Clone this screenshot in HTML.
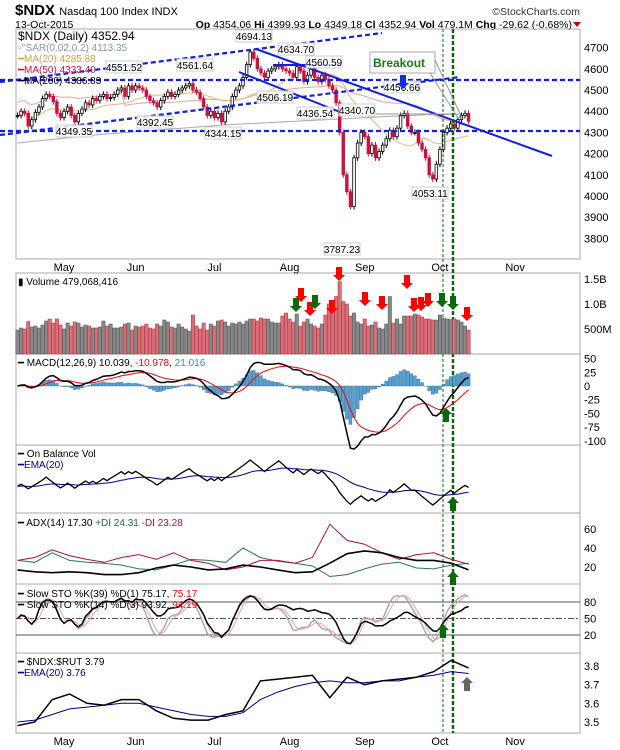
<!DOCTYPE html>
<html><head><meta charset="utf-8"><style>
body{margin:0;background:#fff;}
svg{display:block;font-family:"Liberation Sans",sans-serif;}
.ax{font-size:11px;fill:#000;}
</style></head><body>
<svg id="c" width="620" height="750" viewBox="0 0 620 750">
<rect x="0" y="0" width="620" height="750" fill="#fff"/>
<text x="15" y="15" font-size="15" font-weight="bold">$NDX <tspan font-size="11" font-weight="normal">Nasdaq 100 Index  INDX</tspan></text>
<text x="15" y="28" font-size="10.5">13-Oct-2015</text>
<text x="580" y="15" font-size="10.5" text-anchor="end" fill="#333">©StockCharts.com</text>
<text x="572" y="28" font-size="10.5" text-anchor="end"><tspan font-weight="bold">Op</tspan> 4354.06 <tspan font-weight="bold">Hi</tspan> 4399.93 <tspan font-weight="bold">Lo</tspan> 4349.18 <tspan font-weight="bold">Cl</tspan> 4352.94 <tspan font-weight="bold">Vol</tspan> 479.1M <tspan font-weight="bold">Chg</tspan> -29.62 (-0.68%)</text>
<polygon points="573,22 581,22 577,27" fill="#c00"/>
<g id="g"></g>
</svg>
<script>
const months=['May','Jun','Jul','Aug','Sep','Oct','Nov'];
const monthIdx=[13,33,55,76,97,118,139];
const closes=[4380,4400,4390,4330,4360,4395,4420,4460,4480,4470,4445,4390,4370,
4400,4420,4380,4350,4390,4410,4440,4430,4460,4450,4470,4480,4460,4465,4480,4500,4510,4470,4520,4500,
4520,4510,4500,4470,4450,4440,4420,4450,4470,4490,4470,4480,4500,4510,4520,4530,4500,4490,4460,4420,4380,4400,
4370,4390,4350,4400,4420,4470,4500,4520,4560,4620,4680,4650,4600,4580,4560,4590,4600,4610,4620,4600,4590,
4580,4560,4610,4590,4540,4570,4600,4560,4540,4570,4550,4520,4500,4440,4300,4100,4020,3950,4180,4250,4300,
4280,4200,4240,4180,4210,4240,4270,4310,4280,4320,4380,4390,4330,4300,4300,4250,4220,4180,4100,4080,4150,
4220,4300,4320,4340,4320,4360,4380,4390,4353];
const volumes=[480,520,500,650,540,560,520,580,660,700,620,700,580,
500,620,560,640,620,540,580,560,520,520,540,660,560,600,520,520,540,600,620,480,
560,540,560,600,520,500,600,560,680,640,540,520,600,540,500,460,780,560,500,620,480,600,
560,660,680,640,560,620,600,640,600,660,700,700,660,720,700,700,640,620,620,760,820,
700,640,800,560,640,700,600,560,520,600,780,1000,860,1150,1450,1050,1000,760,820,640,600,
700,560,580,640,520,500,600,1150,620,700,600,760,760,760,800,780,740,700,700,680,680,
780,720,700,690,700,680,640,560,480];
const ma200=[4250,4270,4290,4305,4320,4335,4345,4355,4365,4375,4383,4387];
const priceTicks=[4700,4600,4500,4400,4300,4200,4100,4000,3900,3800];
const volTicks=[[1500,'1.5B'],[1000,'1.0B'],[500,'500M']];
const macdTicks=[50,25,0,-25,-50,-75,-100];
const adxVals=[17,15,14,15,14,12,12,14,19,22,20,17,18,22,20,17,14,15,24,34,37,35,30,27,27,24,17];
const pdiVals=[27,25,35,27,25,24,22,18,17,22,28,27,25,40,30,26,24,21,10,12,18,23,25,19,18,22,24];
const mdiVals=[27,30,38,32,28,25,30,33,28,35,27,24,17,20,27,27,24,30,65,48,44,35,28,33,35,28,23];
const adxTicks=[60,40,20];
const stoTicks=[80,50,20];
const rutVals=[3.48,3.50,3.62,3.65,3.60,3.59,3.62,3.62,3.56,3.52,3.51,3.51,3.54,3.56,3.72,3.73,3.74,3.75,3.63,3.74,3.70,3.72,3.73,3.74,3.77,3.83,3.79];
const rutEma=[3.50,3.51,3.54,3.57,3.58,3.59,3.60,3.60,3.58,3.56,3.54,3.53,3.53,3.55,3.62,3.66,3.69,3.71,3.72,3.71,3.71,3.72,3.72,3.74,3.75,3.77,3.76];
const rutTicks=[3.8,3.7,3.6,3.5];

const NS='http://www.w3.org/2000/svg';
const G=document.getElementById('g');
function mk(tag,attrs,parent){const e=document.createElementNS(NS,tag);for(const k in attrs)e.setAttribute(k,attrs[k]);(parent||G).appendChild(e);return e;}
const L=16,R=580;
const xi=i=>17.5+i*3.58;
const N=closes.length;
const xc=(k,n)=>xi(k*(N-1)/(n-1));
const py=p=>47.7+(4700-p)*0.2118;
const vy=v=>354-v*0.05;
const my=v=>386-v*0.548;
const ay=v=>586-v*0.95;
const sy=v=>646-v*0.55;
const ry=v=>666+(3.8-v)*186.7;
const panels=[[29,259],[273,354],[354,445],[445,513],[513,584],[584,653],[653,733]];
const pnames=['price-panel','volume-panel','macd-panel','obv-panel','adx-panel','stochastic-panel','ratio-panel'];
panels.forEach((p,k)=>{const r=mk('rect',{x:L,y:p[0],width:R-L,height:p[1]-p[0],fill:'none',stroke:'#aaa','stroke-width':1});

});
function monthLabels(y){months.forEach((m,k)=>{const x=xi(monthIdx[k]);const t=mk('text',{x:x,y:y,class:'ax','text-anchor':'middle'});t.textContent=m;

});}
monthLabels(271);monthLabels(745);
function poly(pts,attrs,name){const e=mk('polyline',Object.assign({points:pts.map(p=>p[0].toFixed(1)+','+p[1].toFixed(1)).join(' '),fill:'none'},attrs));

return e;}
function tick(y,txt,name){const t=mk('text',{x:584,y:y+4,class:'ax'});t.textContent=txt;

}
function sma(a,n){return a.map((v,i)=>{const s=a.slice(Math.max(0,i-n+1),i+1);return s.reduce((x,y)=>x+y,0)/s.length;});}
function ema(a,n){const k=2/(n+1);let e=a[0];return a.map(v=>(e=v*k+e*(1-k)));}
// price
priceTicks.forEach(p=>tick(py(p),String(p),'price-tick-'+p));
poly(ma200.map((v,k)=>[xc(k,ma200.length),py(v)]),{stroke:'#aaa','stroke-width':1},'ma200-line');
const ma50=sma(closes,50).map((v,i)=>i<30?v+60:v);
poly(ma50.map((v,i)=>[xi(i),py(v)]),{stroke:'#f0a0a0','stroke-width':1},'ma50-line');
poly(sma(closes,20).map((v,i)=>[xi(i),py(v)]),{stroke:'#e8b878','stroke-width':1},'ma20-line');
closes.forEach((c,i)=>{const o=i?closes[i-1]:c;const up=c>=o;const col=up?'#000':'#d0103a';
const x=xi(i),y1=py(Math.max(o,c)),y2=py(Math.min(o,c));
const w=mk('line',{x1:x,x2:x,y1:y1-3,y2:y2+3,stroke:col,'stroke-width':1});


const b=mk('rect',{x:x-1.3,y:y1,width:2.6,height:Math.max(1,y2-y1),fill:up?'#fff':col,stroke:col,'stroke-width':0.8});

});
function ln(x1,y1,x2,y2,attrs,name){const e=mk('line',Object.assign({x1,y1,x2,y2},attrs));

}
const dash={stroke:'#1020e0','stroke-width':2.2,'stroke-dasharray':'5,3'};
ln(0,82,382,33,dash,'upper-channel-dashed');
ln(0,80,580,80,dash,'resistance-dashed');
ln(0,131,580,131,dash,'support-dashed');
ln(0,135,460,77,dash,'rising-channel-dashed');
ln(256,49,552,156,{stroke:'#1020e0','stroke-width':2},'falling-trendline');
ln(239,72,340,112,{stroke:'#1020e0','stroke-width':2},'falling-channel-lower');
ln(273,65,340,65,{stroke:'#1020e0','stroke-width':2},'short-resistance');
ln(376,114,458,114,{stroke:'#999','stroke-width':1},'gray-level-line');
[[443,1,'3,2'],[453,2.5,'4,2']].forEach((v,k)=>ln(v[0],29,v[0],733,{stroke:'#0a6a0a','stroke-width':v[1],'stroke-dasharray':v[2]},'signal-vertical-'+(k+1)));
const plabels=[['4694.13',254,38],['4634.70',296,51],['4560.59',324,64],['4551.52',124,69],['4561.64',195,67],['4506.19',275,99],['4436.54',315,115],['4340.70',357,112],['4392.45',155,124],['4349.35',74,133],['4344.15',223,135],['4456.66',402,89],['4053.11',430,195],['3787.23',342,251]];
plabels.forEach(l=>{const r=mk('rect',{x:l[1]-18,y:l[2]-8,width:36,height:12,fill:'#fff','fill-opacity':0.85,stroke:'#ccc'});


const t=mk('text',{x:l[1],y:l[2]+2,'font-size':10,'text-anchor':'middle'});t.textContent=l[0];

});
const bb=mk('rect',{x:370,y:52,width:65,height:21,fill:'#fff',stroke:'#aaa'});


const bt=mk('text',{x:373,y:67,'font-size':12,'font-weight':'bold',fill:'#1a7a1a'});bt.textContent='Breakout';


ln(435,60,462,118,{stroke:'#999'},'callout-pointer-1');ln(430,73,458,118,{stroke:'#999'},'callout-pointer-2');
const leg=[['$NDX (Daily) 4352.94','#000',13],['▫°SAR(0.02,0.2) 4113.35','#8899aa',11],['━MA(20) 4285.88','#d9a040',11],['━MA(50) 4333.40','#d0103a',11],['━MA(200) 4386.83','#000',11]];
leg.forEach((l,k)=>{const t=mk('text',{x:18,y:40+k*11,'font-size':l[2]-1,fill:l[1]});t.textContent=l[0];

});
// volume
volTicks.forEach(v=>tick(vy(v[0]),v[1],'volume-tick'));
volumes.forEach((v,i)=>{const up=i==0||closes[i]>=closes[i-1];const r=mk('rect',{x:xi(i)-1.7,y:vy(v),width:3.4,height:354-vy(v),fill:up?'#888':'#d87078',stroke:up?'#555':'#b03040','stroke-width':0.5});

});
const vt=mk('text',{x:18,y:285,'font-size':10});vt.textContent='▮ Volume 479,068,416';


// MACD
macdTicks.forEach(v=>tick(my(v),String(v),'macd-tick'));
const e12=ema(closes,12),e26=ema(closes,26);const macd=e12.map((v,i)=>v-e26[i]);const sig=ema(macd,9);
macd.forEach((m,i)=>{const h=m-sig[i];const r=mk('rect',{x:xi(i)-1.5,y:Math.min(my(0),my(h)),width:3,height:Math.abs(my(h)-my(0)),fill:'#5aa0d0',stroke:'#2a6a90','stroke-width':0.4});

});
poly(sig.map((v,i)=>[xi(i),my(v)]),{stroke:'#f00','stroke-width':1},'macd-signal-line');
poly(macd.map((v,i)=>[xi(i),my(v)]),{stroke:'#000','stroke-width':1.5},'macd-line');
const mt=mk('text',{x:18,y:366,'font-size':10});mt.innerHTML='━ MACD(12,26,9) 10.039, <tspan fill="#f00">-10.978</tspan>, <tspan fill="#3a90b0">21.016</tspan>';


// OBV
let ob=0;const obv=closes.map((c,i)=>{if(i)ob+=c>closes[i-1]?volumes[i]:c<closes[i-1]?-volumes[i]:0;return ob;});
const omin=Math.min(...obv),omax=Math.max(...obv);const oy=v=>505-(v-omin)/(omax-omin)*45;
poly(ema(obv,20).map((v,i)=>[xi(i),oy(v)]),{stroke:'#00008b','stroke-width':1},'obv-ema-line');
poly(obv.map((v,i)=>[xi(i),oy(v)]),{stroke:'#000','stroke-width':1.3},'obv-line');
const ot=mk('text',{x:18,y:457,'font-size':10});ot.textContent='━ On Balance Vol';


const ot2=mk('text',{x:18,y:468,'font-size':10,fill:'#00008b'});ot2.textContent='━EMA(20)';


// ADX
adxTicks.forEach(v=>tick(ay(v),String(v),'adx-tick'));
poly(pdiVals.map((v,k)=>[xc(k,pdiVals.length),ay(v)]),{stroke:'#2a7a50','stroke-width':1},'plus-di-line');
poly(mdiVals.map((v,k)=>[xc(k,mdiVals.length),ay(v)]),{stroke:'#b01040','stroke-width':1},'minus-di-line');
poly(adxVals.map((v,k)=>[xc(k,adxVals.length),ay(v)]),{stroke:'#000','stroke-width':1.6},'adx-line');
const at=mk('text',{x:18,y:526,'font-size':10});at.innerHTML='━ ADX(14) 17.30 <tspan fill="#1a6a3a">+DI 24.31</tspan> <tspan fill="#b01040">-DI 23.28</tspan>';


// STO
stoTicks.forEach(v=>{tick(sy(v),String(v),'sto-tick');ln(L,sy(v),R,sy(v),{stroke:'#555','stroke-width':1,'stroke-dasharray':v==50?'6,2,2,2':'none'},'sto-level-'+v);});
function stoch(n,pad){return sma(closes.map((c,i)=>{const s=closes.slice(Math.max(0,i-n+1),i+1);const hi=Math.max(...s)+pad,lo=Math.min(...s)-pad;return (c-lo)/(hi-lo)*100;}),3);}
const k14=stoch(14,25),d3=sma(k14,3),k39=stoch(39,30);
const cp=mk('clipPath',{id:'sc'});mk('rect',{x:L,y:590,width:R-L,height:63},cp);
poly(k14.map((v,i)=>[xi(i),sy(v)]),{stroke:'#aaa','stroke-width':1.5,'clip-path':'url(#sc)'},'sto-k14-line');
poly(d3.map((v,i)=>[xi(i),sy(v)]),{stroke:'#f0a0a0','stroke-width':1,'clip-path':'url(#sc)'},'sto-d3-line');
poly(k39.map((v,i)=>[xi(i),sy(v)]),{stroke:'#000','stroke-width':1.5,'clip-path':'url(#sc)'},'sto-k39-line');
const st1=mk('text',{x:18,y:597,'font-size':10});st1.innerHTML='━ Slow STO %K(39) %D(1) 75.17, <tspan fill="#f00">75.17</tspan>';


const st2=mk('text',{x:18,y:608,'font-size':10});st2.innerHTML='━ Slow STO %K(14) %D(3) 93.92, <tspan fill="#f00">94.19</tspan>';


// RUT ratio
rutTicks.forEach(v=>tick(ry(v),v.toFixed(1),'ratio-tick'));
poly(rutEma.map((v,k)=>[xc(k,rutEma.length),ry(v)]),{stroke:'#00008b','stroke-width':1},'ratio-ema-line');
poly(rutVals.map((v,k)=>[xc(k,rutVals.length),ry(v)]),{stroke:'#000','stroke-width':1.5},'ratio-line');
const rt=mk('text',{x:18,y:665,'font-size':10});rt.textContent='━ $NDX:$RUT 3.79';


const rt2=mk('text',{x:18,y:676,'font-size':10,fill:'#00008b'});rt2.textContent='━EMA(20) 3.76';


function arrow(x,y,down,col,name){const s=down?1:-1;const pts=[[x-3,y-14*s],[x+3,y-14*s],[x+3,y-6*s],[x+6,y-6*s],[x,y],[x-6,y-6*s],[x-3,y-6*s]];
const e=mk('polygon',{points:pts.map(p=>p.join(',')).join(' '),fill:col});

}
[[301,302],[310,316],[332,314],[339,281],[365,306],[382,310],[407,289],[414,312],[421,311],[428,307],[467,321]].forEach(a=>arrow(a[0],a[1],true,'#f00','volume-sell-arrow'));
[[296,312],[315,309],[442,307],[453,310]].forEach(a=>arrow(a[0],a[1],true,'#0a6a0a','volume-buy-arrow'));
arrow(403,89,true,'#1030e0','price-blue-arrow');
arrow(446,408,false,'#0a6a0a','macd-up-arrow');
arrow(453,497,false,'#0a6a0a','obv-up-arrow');
arrow(453,571,false,'#0a6a0a','adx-up-arrow');
arrow(443,624,false,'#0a6a0a','sto-up-arrow');
arrow(467,677,false,'#666','ratio-up-arrow');
</script>
</body></html>
